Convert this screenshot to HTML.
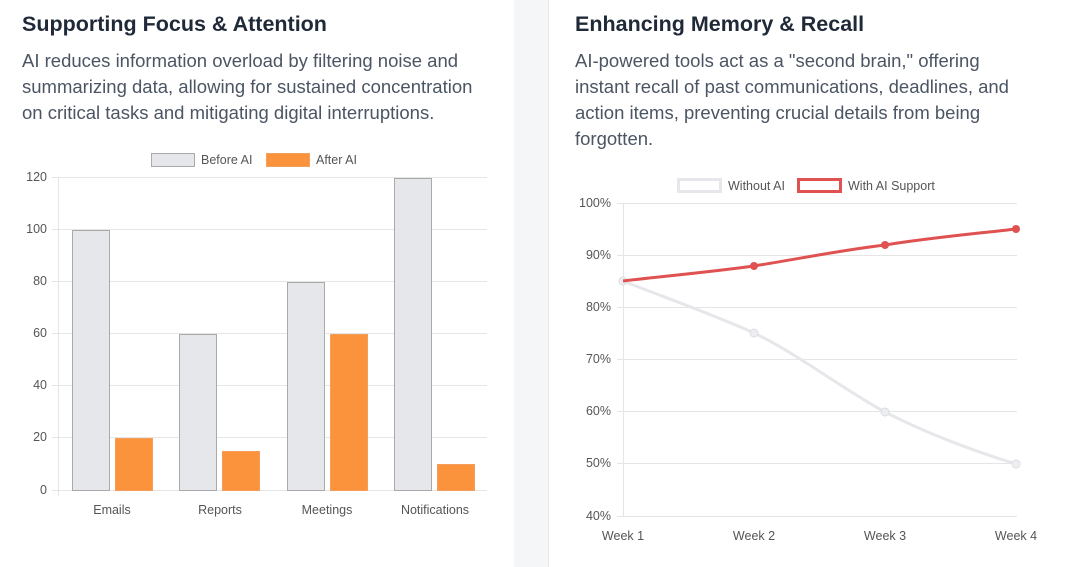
<!DOCTYPE html>
<html><head><meta charset="utf-8"><style>
body{margin:0;width:1068px;height:567px;overflow:hidden;background:#fff;font-family:"Liberation Sans",sans-serif;position:relative}
.gap{position:absolute;left:514px;top:0;width:34px;height:567px;background:#f5f6f8;border-right:1px solid #e5e7eb}
h2{position:absolute;margin:0;font-size:21.5px;font-weight:bold;color:#1f2937;top:12px;white-space:nowrap}
p{position:absolute;margin:0;font-size:18.5px;line-height:26px;color:#4b5563;top:48px;white-space:nowrap}
svg{position:absolute;left:0;top:0}
svg text{font-family:"Liberation Sans",sans-serif;font-size:12.5px;fill:#555}
</style></head><body>
<div class="gap"></div>
<h2 style="left:22px">Supporting Focus &amp; Attention</h2>
<p style="left:22px">AI reduces information overload by filtering noise and<br>summarizing data, allowing for sustained concentration<br>on critical tasks and mitigating digital interruptions.</p>
<h2 style="left:575px">Enhancing Memory &amp; Recall</h2>
<p style="left:575px">AI-powered tools act as a "second brain," offering<br>instant recall of past communications, deadlines, and<br>action items, preventing crucial details from being<br>forgotten.</p>
<svg width="1068" height="567">
<g stroke="#e5e5e5" stroke-width="1">
<line x1="52" y1="177.5" x2="487" y2="177.5"/><line x1="52" y1="229.5" x2="487" y2="229.5"/>
<line x1="52" y1="281.5" x2="487" y2="281.5"/><line x1="52" y1="333.5" x2="487" y2="333.5"/>
<line x1="52" y1="385.5" x2="487" y2="385.5"/><line x1="52" y1="437.5" x2="487" y2="437.5"/>
<line x1="52" y1="490.5" x2="487" y2="490.5"/><line x1="58.5" y1="177" x2="58.5" y2="496"/>
</g>
<g text-anchor="end"><text x="47" y="181">120</text><text x="47" y="233">100</text><text x="47" y="285">80</text><text x="47" y="337">60</text><text x="47" y="389">40</text><text x="47" y="441">20</text><text x="47" y="494">0</text></g>
<g fill="#e5e7eb" stroke="#aaa" stroke-width="1">
<rect x="72.5" y="230.5" width="37" height="260"/><rect x="179.5" y="334.5" width="37" height="156"/>
<rect x="287.5" y="282.5" width="37" height="208"/><rect x="394.5" y="178.5" width="37" height="312"/>
</g>
<g fill="#fb923c" stroke="#f59e5b" stroke-width="1">
<rect x="115.5" y="438.5" width="37" height="52"/><rect x="222.5" y="451.5" width="37" height="39"/>
<rect x="330.5" y="334.5" width="37" height="156"/><rect x="437.5" y="464.5" width="37" height="26"/>
</g>
<g text-anchor="middle"><text x="112" y="514">Emails</text><text x="220" y="514">Reports</text><text x="327" y="514">Meetings</text><text x="435" y="514">Notifications</text></g>
<rect x="151.5" y="153.5" width="43" height="13" fill="#e5e7eb" stroke="#aaa"/><text x="201" y="164">Before AI</text>
<rect x="266.5" y="153.5" width="43" height="13" fill="#fb923c" stroke="#f59e5b"/><text x="316" y="164">After AI</text>
<g stroke="#e5e5e5" stroke-width="1">
<line x1="617" y1="203.5" x2="1017" y2="203.5"/><line x1="617" y1="255.5" x2="1017" y2="255.5"/>
<line x1="617" y1="307.5" x2="1017" y2="307.5"/><line x1="617" y1="359.5" x2="1017" y2="359.5"/>
<line x1="617" y1="411.5" x2="1017" y2="411.5"/><line x1="617" y1="463.5" x2="1017" y2="463.5"/>
<line x1="617" y1="516.5" x2="1017" y2="516.5"/><line x1="623.5" y1="203" x2="623.5" y2="516"/>
</g>
<g text-anchor="end"><text x="611" y="207">100%</text><text x="611" y="259">90%</text><text x="611" y="311">80%</text><text x="611" y="363">70%</text><text x="611" y="415">60%</text><text x="611" y="467">50%</text><text x="611" y="520">40%</text></g>
<g text-anchor="middle"><text x="623" y="540">Week 1</text><text x="754" y="540">Week 2</text><text x="885" y="540">Week 3</text><text x="1016" y="540">Week 4</text></g>
<path d="M623,281 C666,298 712,314 754,333 C798,354 844,390 885,412 C928,434 974,451 1016,464" fill="none" stroke="#e5e7eb" stroke-width="3"/>
<g fill="#eceef1" stroke="#dcdde0"><circle cx="623" cy="281" r="4"/><circle cx="754" cy="333" r="4"/><circle cx="885" cy="412" r="4"/><circle cx="1016" cy="464" r="4"/></g>
<path d="M623,281 C666,276 710,272 754,266 C798,259 842,250 885,245 C928,238 972,234 1016,229" fill="none" stroke="#e05252" stroke-width="3"/>
<g fill="#e05252"><circle cx="754" cy="266" r="4"/><circle cx="885" cy="245" r="4"/><circle cx="1016" cy="229" r="4"/></g>
<rect x="678.5" y="179.5" width="42" height="12" fill="none" stroke="#e5e7eb" stroke-width="3"/><text x="728" y="190">Without AI</text>
<rect x="798.5" y="179.5" width="42" height="12" fill="none" stroke="#e05252" stroke-width="3"/><text x="848" y="190">With AI Support</text>
</svg>
</body></html>
